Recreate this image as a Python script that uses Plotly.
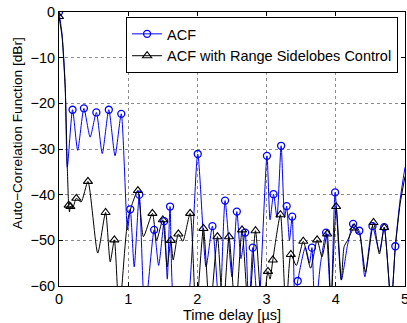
import plotly.graph_objects as go

# ---------------- data ----------------
# ACF curve (time delay in µs, level in dBr); values below -60 fall off the axis
acf_t = [0, 0.045, 0.09, 0.12, 0.196, 0.27, 0.36, 0.45, 0.54, 0.625, 0.72, 0.81, 0.90,
         0.99, 1.03, 1.087, 1.16, 1.24, 1.375, 1.44, 1.52, 1.565, 1.605, 1.68, 1.78, 1.86,
         2.005, 2.125, 2.217, 2.32, 2.40, 2.50, 2.57, 2.63, 2.69, 2.745, 2.80, 2.88,
         3.005, 3.05, 3.10, 3.15, 3.21, 3.26, 3.29, 3.33, 3.37, 3.41, 3.45, 3.56, 3.62,
         3.655, 3.70, 3.78, 3.86, 3.93, 3.99, 4.08, 4.17, 4.25, 4.30, 4.34, 4.42, 4.53,
         4.63, 4.70, 4.80, 4.86, 4.93, 5.0]
acf_db = [0, -5, -16, -34, -21.4, -30.3, -21.1, -27.4, -22.0, -31.0, -21.4, -31.5, -22.3,
          -47.7, -43.2, -55.8, -40.0, -66, -47.7, -55.5, -45.8, -58.5, -42.6, -66, -66, -64,
          -31.1, -55.8, -46.9, -66, -41.3, -58.0, -43.7, -54.0, -48.3, -66, -51.6, -66,
          -31.5, -45.5, -39.9, -45.0, -29.3, -45.0, -42.5, -50.0, -44.8, -64, -58.9, -51.5, -55.0,
          -51.6, -66, -55.0, -48.3, -64, -39.5, -58.7, -51.0, -46.4, -48.5, -47.9, -58.0, -46.9,
          -52.5, -47.1, -64, -51.3, -41.0, -34.0]
# ACF sample points shown with circle markers
acf_mark_t = [0, 0.196, 0.36, 0.54, 0.72, 0.90, 1.03, 1.16, 1.375, 1.52, 1.605, 2.005, 2.217,
              2.40, 2.57, 2.69, 2.80, 3.005, 3.10, 3.21, 3.29, 3.37, 3.45, 3.655, 3.86, 3.99,
              4.25, 4.34, 4.53, 4.70, 4.86]
acf_mark_db = [0, -21.4, -21.1, -22.0, -21.4, -22.3, -43.2, -40.0, -47.7, -45.8, -42.6, -31.1,
               -46.9, -41.3, -43.7, -48.3, -51.6, -31.5, -39.9, -29.3, -42.5, -44.8, -58.9,
               -51.6, -48.3, -39.5, -46.4, -47.9, -46.9, -47.1, -51.3]

# ACF with range sidelobes control
rsc_t = [0, 0.045, 0.09, 0.12, 0.14, 0.152, 0.165, 0.20, 0.25, 0.32, 0.418, 0.56, 0.673, 0.74,
         0.80, 0.87, 1.0, 1.14, 1.22, 1.35, 1.41, 1.50, 1.563, 1.616, 1.65, 1.725, 1.79, 1.895,
         1.98, 2.087, 2.18, 2.29, 2.37, 2.457, 2.55, 2.645, 2.74, 2.84, 2.935, 3.02, 3.05,
         3.09, 3.20, 3.28, 3.35, 3.43, 3.53, 3.636, 3.73, 3.80, 3.875, 3.93, 4.005, 4.08,
         4.12, 4.17, 4.265, 4.34, 4.43, 4.545, 4.63, 4.70, 4.80, 4.86, 4.93, 5.0]
rsc_db = [-1, -5.5, -17, -34, -42.3, -43.8, -42.6, -42.8, -40.8, -41.6, -37.1, -52.8, -43.9, -54.7,
          -49.9, -66, -45, -39.1, -49.2, -44.1, -50.0, -45.5, -55.8, -50.0, -54.3, -48.6, -50.2, -44.1,
          -66, -47.4, -66, -49.2, -66, -49.2, -66, -47.7, -66, -47.9, -66, -56.8, -58.5,
          -54.3, -44.4, -66, -53.1, -55.5, -50.2, -56.1, -49.9, -53.6, -48.6, -64, -42.6, -58.7,
          -51.4, -50.0, -47.3, -48.5, -57.0, -46.1, -53.0, -47.2, -64, -51.5, -42.0, -36.0]
rsc_mark_t = [0, 0.14, 0.165, 0.25, 0.418, 0.673, 0.80, 1.14, 1.35, 1.50, 1.616, 1.725, 1.895,
              2.087, 2.29, 2.457, 2.645, 2.84, 3.02, 3.09, 3.20, 3.35, 3.53, 3.73, 3.875,
              4.005, 4.265, 4.545, 4.70]
rsc_mark_db = [-1, -42.3, -42.6, -40.8, -37.1, -43.9, -49.9, -39.1, -44.1, -45.5, -50.0, -48.6,
               -44.1, -47.4, -49.2, -49.2, -47.7, -47.9, -56.8, -54.3, -44.4, -53.1, -50.2,
               -49.9, -48.6, -42.6, -47.3, -46.1, -47.2]

x_ticks = [0, 1, 2, 3, 4, 5]
y_ticks = [0, -10, -20, -30, -40, -50, -60]

names = ["ACF", "ACF with Range Sidelobes Control"]
x_title = "Time delay [µs]"
y_title = "Auto−Correlation Function [dBr]"
FONT = "Liberation Sans, Arial, Helvetica, sans-serif"
BLUE = "#0000ff"
BLACK = "#000000"
SMOOTH = 0.6

fig = go.Figure()
fig.add_trace(go.Scatter(x=acf_t, y=acf_db, mode="lines",
                         line=dict(color=BLUE, width=1, shape="spline", smoothing=SMOOTH),
                         showlegend=False, hoverinfo="skip"))
fig.add_trace(go.Scatter(x=rsc_t, y=rsc_db, mode="lines",
                         line=dict(color=BLACK, width=1, shape="spline", smoothing=SMOOTH),
                         showlegend=False, hoverinfo="skip"))
fig.add_trace(go.Scatter(x=acf_mark_t, y=acf_mark_db, mode="markers",
                         marker=dict(symbol="circle-open", size=7, color=BLUE, line=dict(width=1.3, color=BLUE)),
                         showlegend=False))
fig.add_trace(go.Scatter(x=rsc_mark_t, y=rsc_mark_db, mode="markers",
                         marker=dict(symbol="triangle-up-open", size=8, color=BLACK, line=dict(width=1.1, color=BLACK)),
                         showlegend=False))
# legend entries
fig.add_trace(go.Scatter(x=[None], y=[None], mode="lines+markers", name=names[0],
                         line=dict(color=BLUE, width=1),
                         marker=dict(symbol="circle-open", size=7, color=BLUE, line=dict(width=1.3, color=BLUE))))
fig.add_trace(go.Scatter(x=[None], y=[None], mode="lines+markers", name=names[1],
                         line=dict(color=BLACK, width=1),
                         marker=dict(symbol="triangle-up-open", size=8, color=BLACK, line=dict(width=1.1, color=BLACK))))

axis_common = dict(showline=True, linecolor="black", linewidth=1, mirror="ticks",
                   ticks="inside", ticklen=4, tickcolor="black", tickwidth=1,
                   showgrid=True, gridcolor="#8c8c8c", griddash="dot", gridwidth=1,
                   zeroline=False, automargin=False, ticklabeloverflow="allow",
                   tickfont=dict(family=FONT, size=14.5, color="black"))

fig.update_xaxes(range=[0, 5], tickvals=x_ticks, ticktext=[str(v) for v in x_ticks],
                 title=dict(text=x_title, font=dict(family=FONT, size=14.5, color="black"), standoff=0),
                 **axis_common)
fig.update_yaxes(range=[-60, 0], tickvals=y_ticks, **axis_common)

fig.add_annotation(text=y_title, textangle=-90, xref="paper", yref="paper",
                   x=-0.121, y=0.558, xanchor="center", yanchor="middle", showarrow=False,
                   font=dict(family=FONT, size=13.7, color="black"))

fig.update_layout(
    width=407, height=323,
    margin=dict(l=59, r=2, t=12, b=37, autoexpand=False),
    paper_bgcolor="white", plot_bgcolor="white",
    font=dict(family=FONT, size=14.5, color="black"),
    legend=dict(x=0.98, y=0.982, xanchor="right", yanchor="top",
                bgcolor="white", bordercolor="black", borderwidth=1,
                font=dict(family=FONT, size=14.5, color="black"),
                tracegroupgap=0, itemwidth=30),
)

fig.write_html("out.html", config={"displayModeBar": False},
               post_script="document.body.style.margin='0';document.body.style.padding='0';"
                           "document.body.style.overflow='hidden';")
